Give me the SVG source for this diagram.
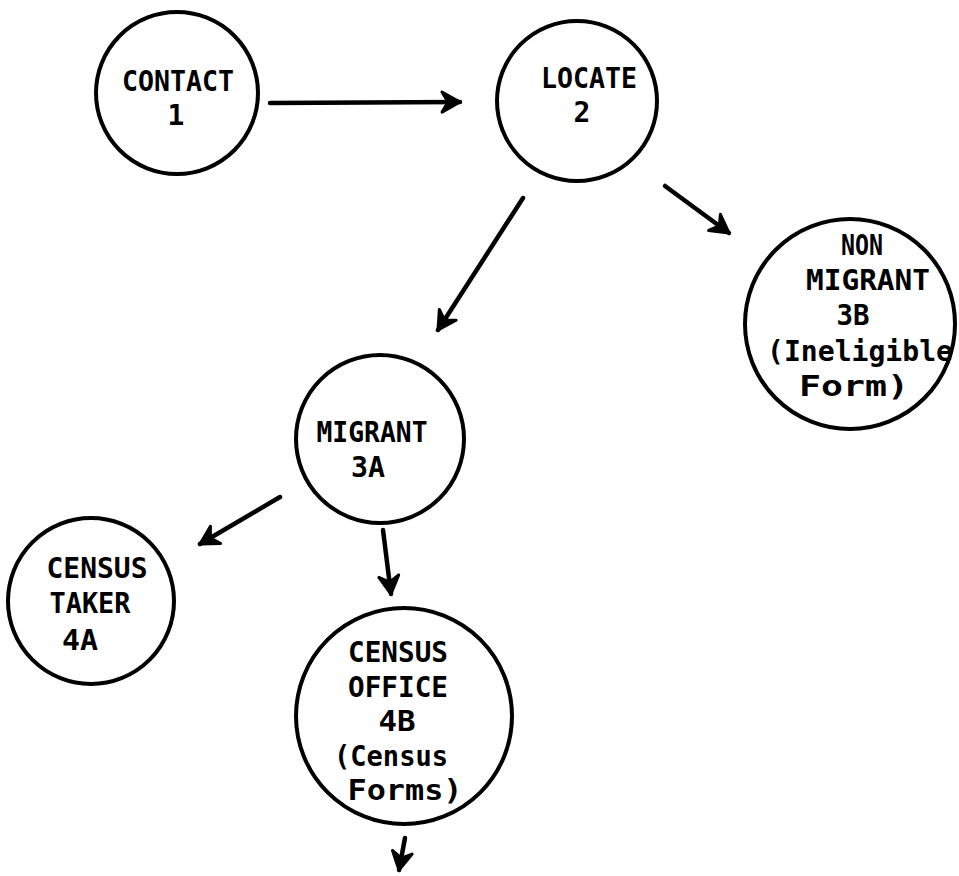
<svg xmlns="http://www.w3.org/2000/svg" width="959" height="876" viewBox="0 0 959 876">
<style>
.node circle{fill:none;stroke:#000;stroke-width:4}
.node text{font-family:"DejaVu Sans Mono","Liberation Mono",monospace;font-weight:bold;font-size:28px;fill:#000;text-anchor:middle}
.edge{fill:none;stroke:#000;stroke-width:4.5;stroke-linecap:round}
</style>
<defs>
<marker id="ah" viewBox="-22 -13 26 26" refX="0" refY="0" markerWidth="26" markerHeight="26" markerUnits="userSpaceOnUse" orient="auto">
<path d="M-18,-10 L0,0 L-18,10 L-12,0 Z" fill="#000" stroke="#000" stroke-width="3" stroke-linejoin="round"/>
</marker>
</defs>
<rect width="959" height="876" fill="#fff"/>
<g id="connectors">
<path class="edge" d="M270,103 L460,102" marker-end="url(#ah)"/>
<path class="edge" d="M523,198 L438,330" marker-end="url(#ah)"/>
<path class="edge" d="M665,186 L729,233" marker-end="url(#ah)"/>
<path class="edge" d="M280,497 L200,544" marker-end="url(#ah)"/>
<path class="edge" d="M383,530 L391,594" marker-end="url(#ah)"/>
<path class="edge" d="M405,838 L399,870" marker-end="url(#ah)"/>
</g>
<g id="n1" class="node">
<circle cx="177" cy="93" r="81"/>
<text x="178" y="91" textLength="112" lengthAdjust="spacingAndGlyphs">CONTACT</text>
<text x="176" y="125">1</text>
</g>
<g id="n2" class="node">
<circle cx="577" cy="101" r="80"/>
<text x="589" y="88" textLength="96" lengthAdjust="spacingAndGlyphs">LOCATE</text>
<text x="582" y="122">2</text>
</g>
<g id="n3B" class="node">
<circle cx="850" cy="324" r="105"/>
<text x="862" y="255" textLength="42" lengthAdjust="spacingAndGlyphs">NON</text>
<text x="868" y="290" textLength="124" lengthAdjust="spacingAndGlyphs">MIGRANT</text>
<text x="853" y="325" textLength="33" lengthAdjust="spacingAndGlyphs">3B</text>
<text x="860" y="361" textLength="186" lengthAdjust="spacingAndGlyphs">(Ineligible</text>
<text x="854" y="396" textLength="110" lengthAdjust="spacingAndGlyphs">Form)</text>
</g>
<g id="n3A" class="node">
<circle cx="380" cy="439" r="84"/>
<text x="372" y="442" textLength="111" lengthAdjust="spacingAndGlyphs">MIGRANT</text>
<text x="368" y="477" textLength="34" lengthAdjust="spacingAndGlyphs">3A</text>
</g>
<g id="n4A" class="node">
<circle cx="91" cy="601" r="83"/>
<text x="97" y="578" textLength="101" lengthAdjust="spacingAndGlyphs">CENSUS</text>
<text x="90" y="613" textLength="81" lengthAdjust="spacingAndGlyphs">TAKER</text>
<text x="80" y="650" textLength="36" lengthAdjust="spacingAndGlyphs">4A</text>
</g>
<g id="n4B" class="node">
<circle cx="404" cy="716" r="108"/>
<text x="398" y="662" textLength="100" lengthAdjust="spacingAndGlyphs">CENSUS</text>
<text x="398" y="697" textLength="100" lengthAdjust="spacingAndGlyphs">OFFICE</text>
<text x="397" y="731" textLength="37" lengthAdjust="spacingAndGlyphs">4B</text>
<text x="391" y="766" textLength="114" lengthAdjust="spacingAndGlyphs">(Census</text>
<text x="405" y="800" textLength="115" lengthAdjust="spacingAndGlyphs">Forms)</text>
</g>
</svg>
